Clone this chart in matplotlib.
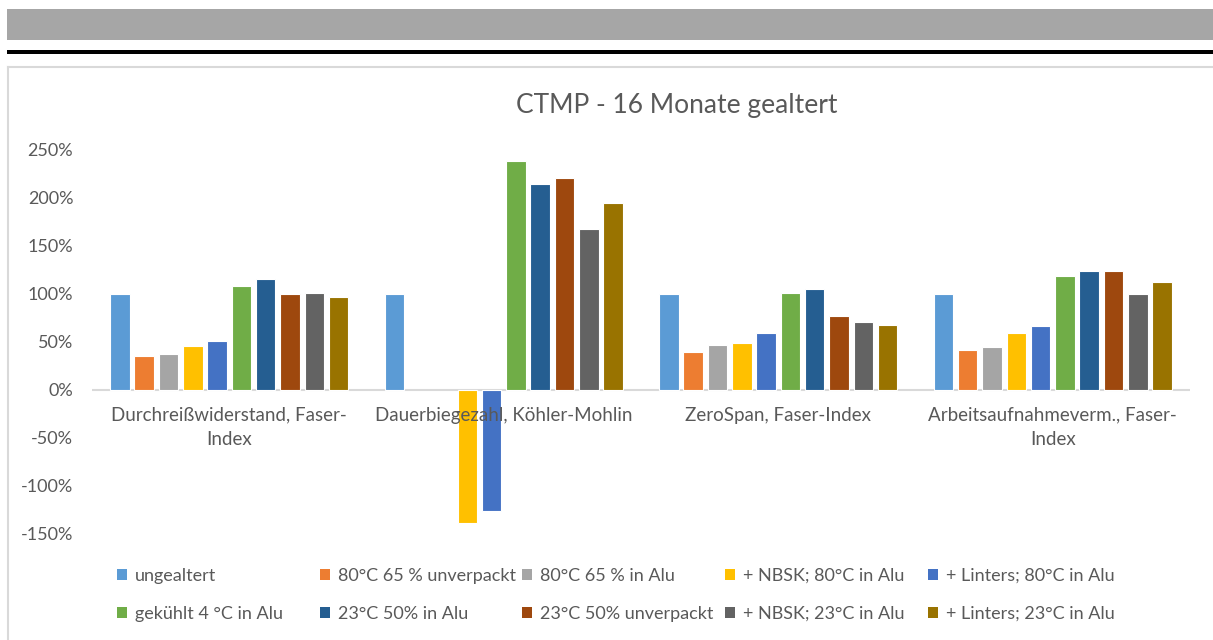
import matplotlib
matplotlib.use("Agg")
import matplotlib.pyplot as plt
import numpy as np
from matplotlib.patches import Patch, Rectangle
from matplotlib.lines import Line2D
from matplotlib.ticker import FuncFormatter

plt.rcParams['font.family'] = ['Lato', 'DejaVu Sans']

categories = ["Durchreißwiderstand, Faser-\nIndex", "Dauerbiegezahl, Köhler-Mohlin",
              "ZeroSpan, Faser-Index", "Arbeitsaufnahmeverm., Faser-\nIndex"]

series_names = ["ungealtert", "80°C 65 % unverpackt", "80°C 65 % in Alu", "+ NBSK; 80°C in Alu",
                "+ Linters; 80°C in Alu", "gekühlt 4 °C in Alu", "23°C 50% in Alu",
                "23°C 50% unverpackt", "+ NBSK; 23°C in Alu", "+ Linters; 23°C in Alu"]

# values in % per series, one per category (nan = no bar)
ungealtert = [100, 100, 100, 100]
unverpackt_80 = [35, np.nan, 40, 42]
alu_80 = [37, np.nan, 47, 45]
nbsk_80 = [46, -139, 48.5, 59.5]
linters_80 = [51, -126.5, 59.5, 66.5]
gekuehlt_4 = [108, 239, 101, 119]
alu_23 = [116, 215, 105.5, 123.5]
unverpackt_23 = [100, 221, 77.5, 123.5]
nbsk_23 = [101, 168, 71, 100]
linters_23 = [97, 195, 68, 113]

values = [ungealtert, unverpackt_80, alu_80, nbsk_80, linters_80,
          gekuehlt_4, alu_23, unverpackt_23, nbsk_23, linters_23]

colors = ["#5B9BD5", "#ED7D31", "#A5A5A5", "#FFC000", "#4472C4",
          "#70AD47", "#255E91", "#9E480E", "#636363", "#997300"]

W, H = 1213, 640
fig = plt.figure(figsize=(W / 100, H / 100), dpi=100)

# header decorations
fig.add_artist(Rectangle((7 / W, 1 - 40 / H), 1, 31 / H, transform=fig.transFigure,
                         facecolor="#A6A6A6", edgecolor="none"))
fig.add_artist(Rectangle((7 / W, 1 - 54 / H), 1, 4 / H, transform=fig.transFigure,
                         facecolor="black", edgecolor="none"))
fig.add_artist(Line2D([8 / W, 1], [1 - 67 / H, 1 - 67 / H], transform=fig.transFigure,
                      color="#D9D9D9", lw=1.5))
fig.add_artist(Line2D([8 / W, 8 / W], [1 - 67 / H, 0], transform=fig.transFigure,
                      color="#D9D9D9", lw=1.5))

ax = fig.add_axes([92 / W, 1 - 534 / H, (1190 - 92) / W, (534 - 150) / H])

x = np.arange(len(categories))
pitch = 0.0885
width = 0.071
for i, (vals, c) in enumerate(zip(values, colors)):
    ax.bar(x + (i - 4.5) * pitch, vals, width, color=c, edgecolor="white", linewidth=0.8,
           label=series_names[i], zorder=2)

ax.axhline(0, color="#D9D9D9", lw=1.5, zorder=1)
ax.set_xlim(-0.5, 3.5)
ax.set_ylim(-150, 250)
ax.set_yticks(np.arange(-150, 251, 50))
ax.yaxis.set_major_formatter(FuncFormatter(lambda v, p: f"{int(v)}%"))
ax.tick_params(axis="y", length=0, labelsize=13, labelcolor="#595959", pad=13.5)
ax.set_xticks([])
for s in ax.spines.values():
    s.set_visible(False)
ax.patch.set_alpha(0)

for xi, cat in zip(x, categories):
    ax.annotate(cat, (xi, 0), xytext=(0, -12), textcoords="offset points",
                ha="center", va="top", fontsize=13.5, color="#595959", linespacing=1.5)

fig.text(677 / W, 1 - 105 / H, "CTMP - 16 Monate gealtert", ha="center", va="center",
         fontsize=19, color="#595959")

# legend: one small legend per column so columns sit at equal spacing
col_x = [117, 320, 522, 725, 928]
for k in range(5):
    handles = [Patch(facecolor=colors[k], edgecolor="none"),
               Patch(facecolor=colors[k + 5], edgecolor="none")]
    labels = [series_names[k], series_names[k + 5]]
    fig.legend(handles, labels, loc="upper left",
               bbox_to_anchor=(col_x[k] / W, 1 - 568 / H), frameon=False,
               fontsize=13, labelcolor="#595959", handlelength=0.55, handleheight=0.55,
               handletextpad=0.45, labelspacing=1.2, borderpad=0, borderaxespad=0)

fig.savefig("out.png", dpi=100)
